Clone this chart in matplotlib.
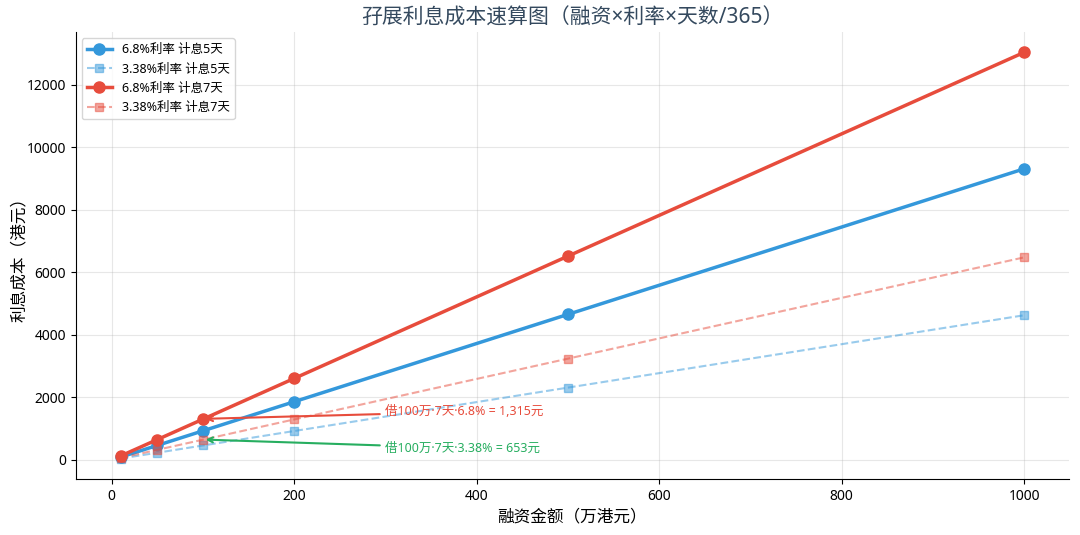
import matplotlib
matplotlib.use("Agg")
import matplotlib.pyplot as plt

plt.rcParams['font.family'] = ['Noto Sans', 'Noto Sans CJK SC']
plt.rcParams['axes.unicode_minus'] = False

# 融资金额（万港元）
amounts = [10, 50, 100, 200, 500, 1000]
# 利息成本（港元）
high_5d = [93.15, 465.75, 931.51, 1863.01, 4657.53, 9315.07]
low_5d = [46.30, 231.51, 463.01, 926.03, 2315.07, 4630.14]
high_7d = [130.41, 652.05, 1304.11, 2608.22, 6520.55, 13041.10]
low_7d = [64.82, 324.11, 648.22, 1296.44, 3241.10, 6482.19]

labels = ["6.8%利率 计息5天", "3.38%利率 计息5天", "6.8%利率 计息7天", "3.38%利率 计息7天"]
note_high = "借100万·7天·6.8% = 1,315元"
note_low = "借100万·7天·3.38% = 653元"
blue = "#3498db"
red = "#e74c3c"
green = "#27ae60"

fig, ax = plt.subplots(figsize=(10.8, 5.35), dpi=100)

ax.plot(amounts, high_5d, "-o", color=blue, lw=2.5, ms=8, label=labels[0])
ax.plot(amounts, low_5d, "--s", color=blue, lw=1.5, ms=6, alpha=0.5, label=labels[1])
ax.plot(amounts, high_7d, "-o", color=red, lw=2.5, ms=8, label=labels[2])
ax.plot(amounts, low_7d, "--s", color=red, lw=1.5, ms=6, alpha=0.5, label=labels[3])

ax.annotate(note_high, xy=(100, 1315), xytext=(300, 1540), color=red, fontsize=9,
            va="center", ha="left",
            arrowprops=dict(arrowstyle="->", color=red, lw=1.5))
ax.annotate(note_low, xy=(100, 653), xytext=(300, 380), color=green, fontsize=9,
            va="center", ha="left",
            arrowprops=dict(arrowstyle="->", color=green, lw=1.5))

ax.set_title("孖展利息成本速算图（融资×利率×天数/365）", fontsize=15, color="#34495e", pad=6)
ax.set_xlabel("融资金额（万港元）", fontsize=12)
ax.set_ylabel("利息成本（港元）", fontsize=12, labelpad=-1)
ax.tick_params(labelsize=10)
ax.grid(True, alpha=0.3)
ax.spines["top"].set_visible(False)
ax.spines["right"].set_visible(False)
ax.legend(loc="upper left", fontsize=9)

fig.subplots_adjust(left=0.07, right=0.99, top=0.94, bottom=0.105)
fig.savefig("out.png")
